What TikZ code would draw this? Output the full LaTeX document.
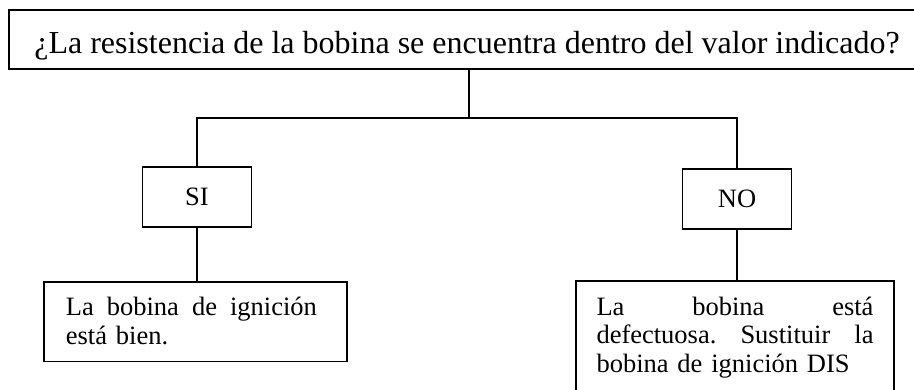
\documentclass[tikz,border=0pt]{standalone}
\usepackage{fontspec}
\setmainfont{Liberation Serif}
\newcommand{\jline}[2]{\leavevmode\hbox to #1{#2}}
\begin{document}
\begin{tikzpicture}[x=1pt,y=-1pt,
  box/.style={draw, line width=1.8pt, rectangle},
  boxline/.style={line width=1.8pt},
  conn/.style={line width=1.4pt},
  bigtext/.style={font=\fontsize{32}{38}\selectfont},
  boxtext/.style={font=\fontsize{26.5}{28.5}\selectfont},
  answer/.style={box, boxtext, minimum width=109pt, minimum height=60pt, inner sep=0pt, text height=17pt, text depth=0pt},
  result/.style={boxtext, anchor=north west, inner ysep=0pt, align=left}
]
\useasboundingbox (0,0) rectangle (914,389);
\clip (0,0) rectangle (914,389);

% question box: its right edge lies beyond the picture's edge
\node[bigtext, anchor=north west, inner xsep=0pt, inner ysep=0pt, outer sep=0pt,
      minimum width=916pt, text height=43pt, text depth=16pt] (q) at (9,10)
  {¿La resistencia de la bobina se encuentra dentro del valor indicado?\hspace{8pt}};
\draw[boxline] (q.north east) -- (q.north west) -- (q.south west) -- (q.south east);

\node[answer] (si) at (197,197) {SI};
\node[answer] (no) at (737,199) {NO};

\node[result, box, inner xsep=22pt, text width=259pt] (lb) at (43,281)
  {\rule{0pt}{34pt}\jline{251pt}{La\hfill bobina\hfill de\hfill ignición}\\
   está bien.\rule[-17pt]{0pt}{17pt}};

% result box: its bottom edge lies beyond the picture's edge
\node[result, outer sep=0pt, inner xsep=20.5pt, text width=277pt] (rb) at (576,281)
  {\rule{0pt}{34pt}\jline{277pt}{La\hfill bobina\hfill está}\\
   \jline{277pt}{defectuosa.\hfill Sustituir\hfill la}\\
   bobina de ignición DIS\rule[-30pt]{0pt}{30pt}};
\draw[boxline] (rb.south west) -- (rb.north west) -- (rb.north east) -- (rb.south east);

\coordinate (j) at (469,118);
\draw[conn] (q.south -| j) -- (j);
\draw[conn] (si.north) |- (j) -| (no.north);
\draw[conn] (si.south) -- (si.south |- lb.north);
\draw[conn] (no.south) -- (no.south |- rb.north);
\end{tikzpicture}
\end{document}
